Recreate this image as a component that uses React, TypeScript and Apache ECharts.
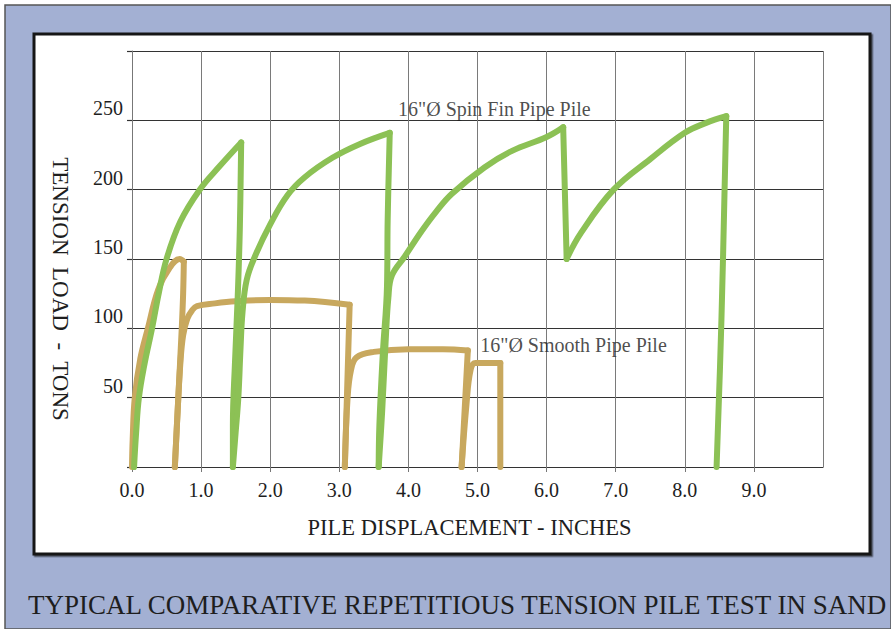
import React, { useEffect, useRef } from "react";
import * as echarts from "echarts";

// ---- data (pile displacement in inches, tension load in tons) ----
const xTicks = [0, 1, 2, 3, 4, 5, 6, 7, 8, 9, 10];
const yTicks = [0, 50, 100, 150, 200, 250, 300];

// 16" spin fin pipe pile: load / unload cycles
const spinLoad1 = [[0.03, 0], [0.06, 25], [0.1, 50], [0.18, 74], [0.29, 100], [0.39, 126], [0.5, 150], [0.7, 177], [0.98, 200], [1.27, 217], [1.58, 234]];
const spinUnload1 = [[1.58, 234], [1.56, 171], [1.53, 123], [1.49, 75], [1.46, 30], [1.46, 0]];
const spinLoad2 = [[1.46, 0], [1.5, 25], [1.54, 51], [1.57, 85], [1.6, 112], [1.66, 135], [1.78, 152], [2.0, 175], [2.25, 196], [2.5, 209], [2.9, 223], [3.3, 233], [3.73, 241]];
const spinUnload2 = [[3.73, 241], [3.7, 178], [3.69, 130], [3.63, 82], [3.58, 30], [3.57, 0]];
const spinLoad3 = [[3.57, 0], [3.62, 40], [3.67, 90], [3.71, 122], [3.76, 138], [3.95, 152], [4.19, 170], [4.4, 184], [4.63, 197], [5.1, 216], [5.5, 228], [6.0, 238], [6.24, 245]];
const spinUnload3 = [[6.24, 245], [6.29, 150]];
const spinLoad4 = [[6.29, 150], [6.5, 169], [6.97, 200], [7.5, 222], [8.0, 241], [8.3, 248], [8.6, 253]];
const spinUnload4 = [[8.6, 253], [8.53, 106], [8.46, 0]];

// 16" smooth pipe pile: load / unload cycles
const smoothLoad1 = [[0.0, 0], [0.01, 20], [0.04, 50], [0.12, 78], [0.23, 100], [0.38, 128], [0.55, 144], [0.69, 150], [0.75, 148]];
const smoothUnload1 = [[0.75, 148], [0.74, 125], [0.72, 100], [0.67, 50], [0.62, 0]];
const smoothLoad2 = [[0.62, 0], [0.66, 40], [0.7, 75], [0.74, 95], [0.8, 107], [0.87, 113], [0.94, 116], [1.2, 118], [1.5, 119.5], [2.0, 120.5], [2.5, 120], [3.15, 117]];
const smoothUnload2 = [[3.15, 117], [3.08, 0]];
const smoothLoad3 = [[3.08, 0], [3.12, 50], [3.17, 70], [3.25, 79], [3.5, 83], [4.0, 85], [4.5, 85], [4.86, 84]];
const smoothUnload3 = [[4.86, 84], [4.77, 0]];
const smoothLoad4 = [[4.77, 0], [4.84, 45], [4.9, 70], [4.97, 75], [5.33, 75]];
const smoothUnload4 = [[5.33, 75], [5.33, 0]];

const spinLabel = '16"Ø Spin Fin Pipe Pile';
const smoothLabel = '16"Ø Smooth Pipe Pile';
const spinLabelAt = [3.85, 258];
const smoothLabelAt = [5.04, 88];

const xName = "PILE DISPLACEMENT - INCHES";
const yName = "TENSION  LOAD  -  TONS";
const title = "TYPICAL COMPARATIVE REPETITIOUS TENSION PILE TEST IN SAND";

const GREEN = "#8cc155";
const TAN = "#c8a85e";
const FONT = "'Liberation Serif', 'DejaVu Serif', serif";
const INK = "#1e1e1e";

export default function App() {
  const ref = useRef<HTMLDivElement>(null);

  useEffect(() => {
    document.body.style.margin = "0";
    if (!ref.current) return;
    const chart = echarts.init(ref.current, null, { renderer: "svg" });

    const seg = (name: string, data: number[][], color: string, z: number) => ({
      name,
      type: "line",
      data,
      z,
      smooth: 0.4,
      symbol: "none",
      showSymbol: false,
      silent: true,
      lineStyle: { color, width: 6, cap: "round", join: "round" },
    });

    const spinSegs = [spinLoad1, spinUnload1, spinLoad2, spinUnload2, spinLoad3, spinUnload3, spinLoad4, spinUnload4];
    const smoothSegs = [smoothLoad1, smoothUnload1, smoothLoad2, smoothUnload2, smoothLoad3, smoothUnload3, smoothLoad4, smoothUnload4];

    const series: any[] = [];
    smoothSegs.forEach((d) => series.push(seg("smooth", d, TAN, 3)));
    spinSegs.forEach((d) => series.push(seg("spin", d, GREEN, 4)));

    const labelSeries = (pos: number[], text: string) => ({
      type: "scatter",
      data: [pos],
      symbolSize: 0,
      z: 6,
      silent: true,
      label: {
        show: true,
        position: "right",
        distance: 0,
        formatter: text,
        fontFamily: FONT,
        fontSize: 20,
        color: INK,
      },
    });
    series.push(labelSeries(spinLabelAt, spinLabel));
    series.push(labelSeries(smoothLabelAt, smoothLabel));

    chart.setOption({
      animation: false,
      graphic: [
        { type: "rect", z: -20, silent: true, shape: { x: 0, y: 0, width: 891, height: 629 }, style: { fill: "#ffffff" } },
        { type: "rect", z: -19, silent: true, shape: { x: 5, y: 5, width: 886, height: 624 }, style: { fill: "#a3b0d3", stroke: "#555", lineWidth: 1.5 } },
        { type: "rect", z: -18, silent: true, shape: { x: 34, y: 34, width: 836, height: 520 }, style: { fill: "#ffffff", stroke: "#141414", lineWidth: 3, shadowColor: "rgba(0,0,0,0.55)", shadowOffsetX: 1.5, shadowOffsetY: 1.5, shadowBlur: 1 } },
        {
          type: "text",
          z: 10,
          silent: true,
          x: 60,
          y: 289,
          rotation: -Math.PI / 2,
          style: { text: yName, fontFamily: FONT, fontSize: 23, fill: INK, align: "center", verticalAlign: "middle" },
        },
        {
          type: "text",
          z: 10,
          silent: true,
          x: 28,
          y: 605,
          style: { text: title, fontFamily: FONT, fontSize: 27, fill: INK, align: "left", verticalAlign: "middle" },
        },
      ],
      grid: { left: 132, top: 51, right: 68, bottom: 162, show: false },
      xAxis: {
        type: "value",
        min: xTicks[0],
        max: xTicks[xTicks.length - 1],
        interval: 1,
        name: xName,
        nameLocation: "middle",
        nameGap: 49,
        nameTextStyle: { fontFamily: FONT, fontSize: 22.5, color: INK, padding: [0, 16, 0, 0] },
        axisLine: { show: true, onZero: false, lineStyle: { color: "#333", width: 1.2 } },
        axisTick: { show: true, length: 5, lineStyle: { color: "#777", width: 1 } },
        axisLabel: {
          margin: 13,
          fontFamily: FONT,
          fontSize: 20,
          color: INK,
          showMaxLabel: false,
          formatter: (v: number) => (v === xTicks[xTicks.length - 1] ? "" : v.toFixed(1)),
        },
        splitLine: { show: true, lineStyle: { color: "#7a7a7a", width: 1 } },
      },
      yAxis: {
        type: "value",
        min: yTicks[0],
        max: yTicks[yTicks.length - 1],
        interval: 50,
        axisLine: { show: true, onZero: false, lineStyle: { color: "#777", width: 1 } },
        axisTick: { show: true, length: 5, lineStyle: { color: "#333", width: 1.2 } },
        axisLabel: {
          margin: 9,
          fontFamily: FONT,
          fontSize: 20,
          color: INK,
          verticalAlign: "bottom",
          padding: [0, 0, 2, 0],
          formatter: (v: number) => (v === yTicks[0] || v === yTicks[yTicks.length - 1] ? "" : String(v)),
        },
        splitLine: { show: true, lineStyle: { color: "#333", width: 1.2 } },
      },
      series,
    });

    return () => chart.dispose();
  }, []);

  return <div ref={ref} style={{ width: 891, height: 629 }} />;
}
